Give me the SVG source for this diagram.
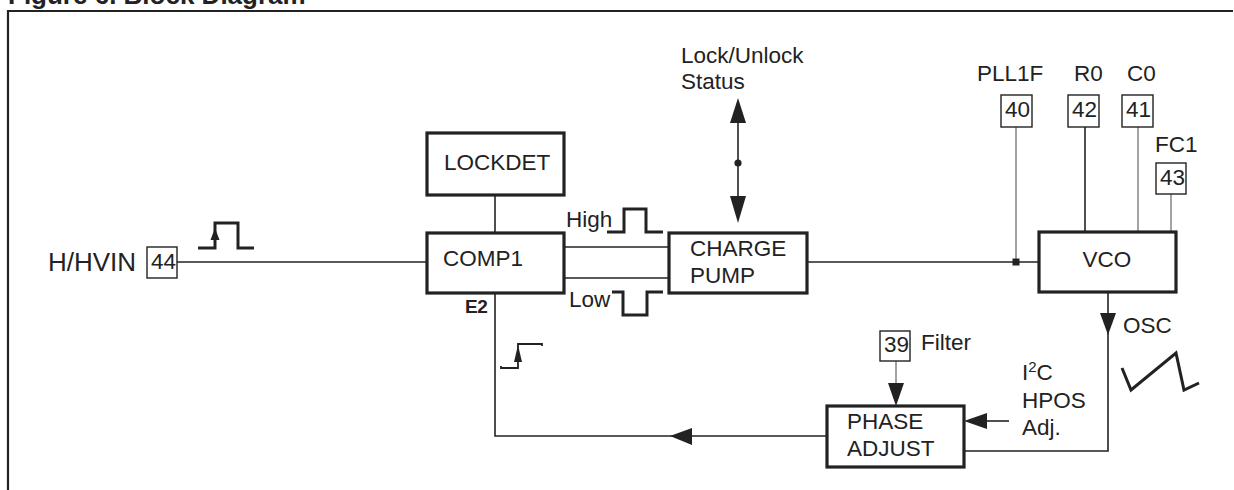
<svg xmlns="http://www.w3.org/2000/svg" width="1234" height="490" viewBox="0 0 1234 490">
<style>
  text { font-family: "Liberation Sans", Arial, sans-serif; fill: #222; font-size: 22.5px; }
  .big { font-size: 26px; }
  .title { font-weight: bold; font-size: 26px; }
  .bold { font-weight: bold; font-size: 19px; letter-spacing: -0.5px; }
  .blk { fill: #fff; stroke: #222; stroke-width: 3.2; }
  .pin { fill: #fff; stroke: #222; stroke-width: 1.4; }
  .ln { fill: none; stroke: #222; stroke-width: 1.6; }
  .thin { fill: none; stroke: #666; stroke-width: 1.2; }
  .wave { fill: none; stroke: #222; stroke-width: 3; stroke-linejoin: miter; }
  .wthin { fill: none; stroke: #222; stroke-width: 1.8; }
  .ah { fill: #222; stroke: none; }
  .frame { fill: none; stroke: #222; stroke-width: 2.2; }
</style>
<rect width="1234" height="490" fill="#fff"/>
<text class="title" x="8" y="4">Figure 6. Block Diagram</text>
<path class="frame" d="M8,490 V11 H1233"/>

<g id="connectors">
  <line class="ln" x1="177" y1="262" x2="427" y2="262"/>
  <line class="ln" x1="495" y1="195" x2="495" y2="233"/>
  <line class="ln" x1="564" y1="247" x2="669" y2="247"/>
  <line class="ln" x1="564" y1="278" x2="669" y2="278"/>
  <line class="ln" x1="807" y1="262" x2="1039" y2="262"/>
  <line class="ln" x1="738" y1="120" x2="738" y2="200"/>
  <polygon class="ah" points="738,98 730,123 746,123"/>
  <polygon class="ah" points="738,223 730,196 746,196"/>
  <circle class="ah" cx="738" cy="163" r="3.6"/>
  <line class="thin" x1="1016" y1="127" x2="1016" y2="262"/>
  <rect class="ah" x="1012.5" y="258.5" width="7" height="7"/>
  <line class="ln" x1="1085" y1="127" x2="1085" y2="232"/>
  <line class="thin" x1="1138" y1="127" x2="1138" y2="232"/>
  <line class="thin" x1="1171" y1="194" x2="1171" y2="232"/>
  <polyline class="ln" points="1108,292 1108,451 964,451"/>
  <polygon class="ah" points="1100,313 1116,313 1108,335"/>
  <polyline class="ln" points="495,293 495,436 827,436"/>
  <polygon class="ah" points="670,436 692,428 692,445"/>
  <line class="thin" x1="896" y1="361" x2="896" y2="385"/>
  <polygon class="ah" points="888,383 904,383 896,406"/>
  <line class="ln" x1="1009" y1="421" x2="985" y2="421"/>
  <polygon class="ah" points="964,421 987,413 987,429"/>
</g>

<g id="hhvin">
  <text class="big" x="48" y="271">H/HVIN</text>
  <rect class="pin" x="147" y="247" width="30" height="31"/>
  <text x="151" y="269">44</text>
  <polyline class="wave" points="198,248 215,248 215,223 238,223 238,248 254,248"/>
  <polygon class="ah" points="215,228 210.5,240 219.5,240"/>
</g>

<g id="lockdet">
  <rect class="blk" x="427" y="133" width="137" height="62"/>
  <text x="444" y="170">LOCKDET</text>
</g>

<g id="comp1">
  <rect class="blk" x="427" y="233" width="137" height="60"/>
  <text x="443" y="266">COMP1</text>
  <text class="bold" x="465" y="313">E2</text>
</g>

<g id="high-low">
  <text x="566" y="227">High</text>
  <polyline class="wave" points="607,232 624,232 624,209 646,209 646,232 663,232"/>
  <text x="569" y="307">Low</text>
  <polyline class="wave" points="612,292 623,292 623,315 647,315 647,292 663,292"/>
</g>

<g id="step">
  <polyline class="wthin" points="501,366 501,368 518,368 518,344 542,344 542,346"/>
  <polygon class="ah" points="518,345 514,362 522,362"/>
</g>

<g id="chargepump">
  <rect class="blk" x="669" y="233" width="138" height="60"/>
  <text x="690" y="256">CHARGE</text>
  <text x="690" y="283">PUMP</text>
</g>

<g id="lockstatus">
  <text x="681" y="63">Lock/Unlock</text>
  <text x="681" y="89">Status</text>
</g>

<g id="pll1f">
  <text x="977" y="81">PLL1F</text>
  <rect class="pin" x="1001" y="95" width="31" height="32"/>
  <text x="1005" y="117">40</text>
</g>
<g id="r0">
  <text x="1074" y="81">R0</text>
  <rect class="pin" x="1068" y="95" width="31" height="32"/>
  <text x="1072" y="117">42</text>
</g>
<g id="c0">
  <text x="1127" y="81">C0</text>
  <rect class="pin" x="1122" y="95" width="31" height="32"/>
  <text x="1126" y="117">41</text>
</g>
<g id="fc1">
  <text x="1155" y="152">FC1</text>
  <rect class="pin" x="1156" y="163" width="30" height="31"/>
  <text x="1160" y="185">43</text>
</g>

<g id="vco">
  <rect class="blk" x="1039" y="232" width="137" height="60"/>
  <text x="1107" y="267" text-anchor="middle">VCO</text>
</g>

<g id="osc">
  <text x="1123" y="333">OSC</text>
  <polyline class="wave" points="1122,368 1131,390 1176,353 1184,390 1199,383"/>
</g>

<g id="filter">
  <rect class="pin" x="880" y="331" width="30" height="30"/>
  <text x="884" y="352">39</text>
  <text x="921" y="350">Filter</text>
</g>

<g id="i2c">
  <text x="1022" y="380">I<tspan font-size="15" dy="-8">2</tspan><tspan dy="8">C</tspan></text>
  <text x="1022" y="408">HPOS</text>
  <text x="1022" y="435">Adj.</text>
</g>

<g id="phaseadjust">
  <rect class="blk" x="827" y="406" width="137" height="61"/>
  <text x="847" y="429">PHASE</text>
  <text x="847" y="456">ADJUST</text>
</g>
</svg>
